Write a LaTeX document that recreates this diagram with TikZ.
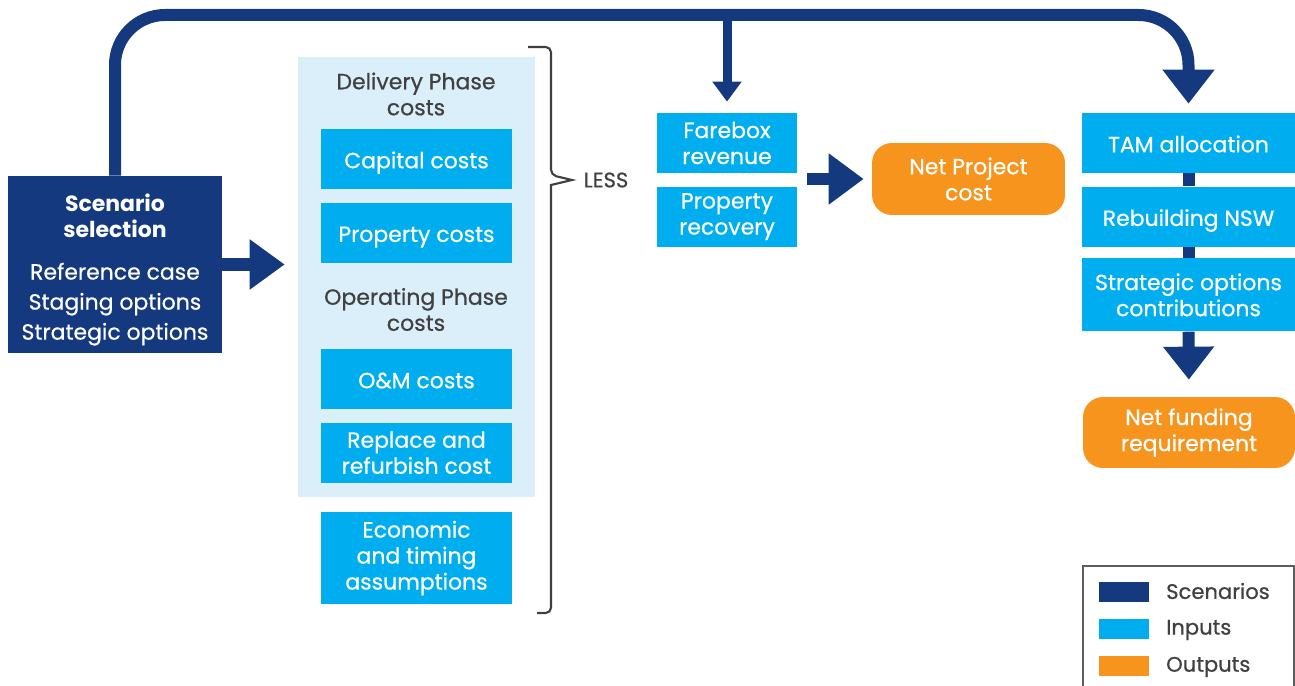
\documentclass[tikz,border=0pt]{standalone}
\usepackage{fontspec}
\setmainfont{Poppins}[UprightFeatures={FakeBold=0.6}]
\usetikzlibrary{arrows.meta}
\usetikzlibrary{positioning}

\definecolor{scenblue}{HTML}{14397F}
\definecolor{inblue}{HTML}{00AEEF}
\definecolor{outorange}{HTML}{F7941D}
\definecolor{panelblue}{HTML}{DBEFFA}
\definecolor{darktext}{HTML}{404040}

\tikzset{
  boxtext/.style={font=\fontsize{12.5}{14.8}\selectfont, align=center, text=white, inner sep=0pt},
  scenbox/.style={boxtext, fill=scenblue},
  inbox/.style={boxtext, fill=inblue, minimum width=3.82cm, minimum height=1.2cm},
  oneline/.style={text height=10.5pt, text depth=0pt},
  outbox/.style={boxtext, fill=outorange, rounded corners=0.4cm},
  heading/.style={font=\fontsize{12.5}{14.8}\selectfont, align=center, text=darktext},
  fatline/.style={draw=scenblue, line width=0.24cm},
}

\begin{document}
\begin{tikzpicture}[x=0.02cm, y=-0.02cm, >=Latex, node distance=0.26cm and 0cm]
  \useasboundingbox (0,0) rectangle (1295,686);

  % Scenario box
  \node (scen) [scenbox, minimum width=4.28cm, minimum height=3.54cm] at (115,264.5)
    {\rule{0pt}{16pt}\bfseries Scenario\\ \bfseries selection\\[9.1pt]
     Reference case\\[2.3pt] Staging options\\[2.3pt] Strategic options};

  % Costs panel
  \node (panel) [fill=panelblue, minimum width=4.74cm, minimum height=8.8cm, inner sep=0pt] at (416.5,277) {};
  \node (delhead) [heading] at (416,94) {Delivery Phase\\costs};
  \node (cap) [inbox, oneline] at (416.5,159) {Capital costs};
  \node (prop) [inbox, oneline, below=of cap] {Property costs};
  \node (ophead) [heading] at (416,309.5) {Operating Phase\\costs};
  \node (om) [inbox, oneline] at (416.5,379) {O\&M costs};
  \node (rep) [inbox, below=of om] {Replace and\\refurbish cost};
  \node (econ) [inbox, minimum height=1.84cm] at (416.5,558) {Economic\\and timing\\assumptions};

  % Brace and LESS
  \node (less) [heading, font=\fontsize{12}{13}\selectfont, inner sep=0pt] at (606,180) {LESS};
  \draw[darktext, line width=1.2pt, rounded corners=3pt]
    (528,47) -- (551,47) -- (551,175) [sharp corners] -- (572,180) -- (551,185)
    [rounded corners=3pt] -- (551,613) -- (537,613);

  % Revenue inputs
  \node (fare) [inbox, minimum width=2.8cm] at (727,143) {Farebox\\revenue};
  \node (prec) [inbox, minimum width=2.8cm, below=of fare] {Property\\recovery};
  \node (net) [outbox, minimum width=3.86cm, minimum height=1.44cm] at (968.5,179) {Net Project\\cost};

  % Funding sources
  \node (tam) [inbox, oneline, minimum width=4.26cm] at (1188.5,143) {TAM allocation};
  \node (reb) [inbox, oneline, minimum width=4.26cm, below=of tam] {Rebuilding NSW};
  \node (strat) [inbox, minimum width=4.26cm, minimum height=1.46cm, below=0.22cm of reb] {Strategic options\\contributions};
  \node (netf) [outbox, minimum width=4.24cm, minimum height=1.42cm] at (1189,432.5) {Net funding\\requirement};

  % Top line from scenario selection
  \coordinate (topy) at (0,15);
  \draw[fatline, -{Triangle[width=1cm,length=0.68cm]}, rounded corners=1cm, shorten >=0.18cm]
    (scen.north) -- (scen.north|-topy) -- (tam.north|-topy) -- (tam.north);
  \draw[draw=scenblue, line width=0.18cm, -{Triangle[width=0.56cm,length=0.4cm]}, shorten >=0.22cm]
    (fare.north|-topy) -- (fare.north);

  % Block arrows
  \draw[draw=scenblue, line width=0.28cm, -{Triangle[width=0.96cm,length=0.7cm]}, shorten >=0.26cm]
    (scen.east) -- (panel.west|-scen.east);
  \draw[fatline, -{Triangle[width=0.98cm,length=0.7cm]}, shorten <=0.2cm, shorten >=0.16cm]
    (fare.east|-net.west) -- (net.west);
  \draw[fatline] (tam.south) -- (reb.north);
  \draw[fatline] (reb.south) -- (strat.north);
  \draw[fatline, -{Triangle[width=0.98cm,length=0.66cm]}, shorten >=0.34cm]
    (strat.south) -- (netf.north);

  % Legend
  \draw[draw=darktext!85, line width=1.1pt] (1083,700) |- (1294,566) -- (1294,700);
  \node (keyscen) [fill=scenblue, minimum width=1cm, minimum height=0.4cm, inner sep=0pt] at (1124,592) {};
  \node (keyin) [fill=inblue, minimum width=1cm, minimum height=0.4cm, inner sep=0pt] at (1124,629) {};
  \node (keyout) [fill=outorange, minimum width=1cm, minimum height=0.4cm, inner sep=0pt] at (1124,666) {};
  \node [heading, font=\fontsize{12}{14}\selectfont, anchor=west] at (1160,591) {Scenarios};
  \node [heading, font=\fontsize{12}{14}\selectfont, anchor=west] at (1160,630) {Inputs};
  \node [heading, font=\fontsize{12}{14}\selectfont, anchor=west] at (1160,667) {Outputs};
\end{tikzpicture}
\end{document}
